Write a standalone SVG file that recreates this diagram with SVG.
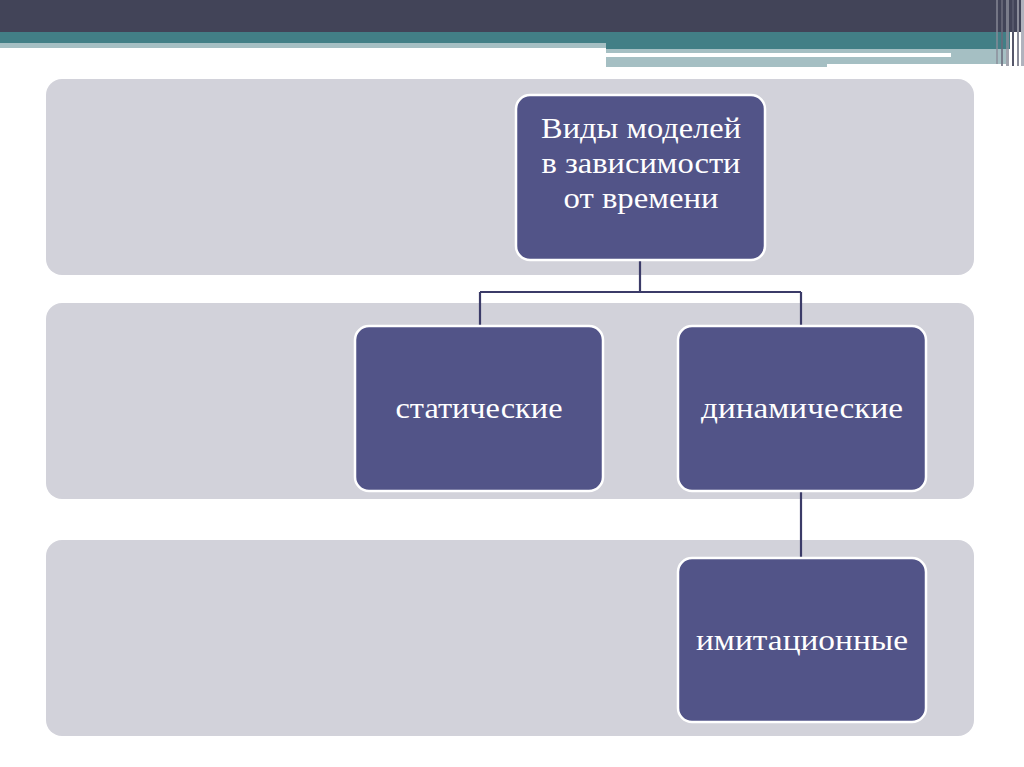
<svg xmlns="http://www.w3.org/2000/svg" width="1024" height="767" viewBox="0 0 1024 767">
<style>
.panel{fill:#d2d2da}
.node{fill:#525488;stroke:#ffffff;stroke-width:2.5}
.lbl{font-family:"Liberation Serif","DejaVu Serif",serif;font-size:29px;fill:#ffffff;text-anchor:middle}
.conn{fill:none;stroke:#3b3b68;stroke-width:2.2}
</style>
<rect width="1024" height="767" fill="#ffffff"/>
<g id="banner">
<rect x="0" y="0" width="1024" height="32" fill="#424458"/>
<rect x="0" y="32" width="1010" height="11" fill="#427f86"/>
<rect x="0" y="43" width="606" height="5" fill="#a5bfc3"/>
<rect x="606" y="43" width="404" height="6" fill="#427f86"/>
<rect x="606" y="49" width="400" height="4" fill="#a5bfc3"/>
<rect x="606" y="53" width="345" height="4" fill="#ffffff"/>
<rect x="951" y="53" width="55" height="11" fill="#a5bfc3"/>
<rect x="606" y="57" width="221" height="10" fill="#a5bfc3"/>
<rect x="827" y="57" width="179" height="7" fill="#a5bfc3"/>
<rect x="996" y="0" width="2" height="64" fill="#8a8c99" opacity="0.7"/>
<rect x="1001" y="0" width="2" height="66" fill="#6a6c7c" opacity="0.8"/>
<rect x="1006" y="0" width="3" height="66" fill="#8a8c99" opacity="0.8"/>
<rect x="1012" y="0" width="2" height="66" fill="#55576a"/>
<rect x="1017" y="0" width="2" height="66" fill="#8a8c99"/>
<rect x="1021" y="0" width="3" height="66" fill="#b0b2bd"/>
</g>
<g id="panels">
<rect class="panel" x="46" y="79" width="928" height="196" rx="16"/>
<rect class="panel" x="46" y="303" width="928" height="196" rx="16"/>
<rect class="panel" x="46" y="540" width="928" height="196" rx="16"/>
</g>
<g id="connectors">
<path class="conn" d="M640 260 V292 M480 292 H801 M480 292 V326 M801 292 V326"/>
<path class="conn" d="M801 491 V558"/>
</g>
<g id="node-root">
<rect class="node" x="516" y="95" width="249" height="165" rx="14"/>
<text class="lbl" x="641" y="138" textLength="200" lengthAdjust="spacingAndGlyphs">Виды моделей</text>
<text class="lbl" x="641" y="173" textLength="199" lengthAdjust="spacingAndGlyphs">в зависимости</text>
<text class="lbl" x="641" y="208" textLength="155" lengthAdjust="spacingAndGlyphs">от времени</text>
</g>
<g id="node-static">
<rect class="node" x="355" y="326" width="248" height="165" rx="14"/>
<text class="lbl" x="479" y="418" textLength="167" lengthAdjust="spacingAndGlyphs">статические</text>
</g>
<g id="node-dynamic">
<rect class="node" x="678" y="326" width="248" height="165" rx="14"/>
<text class="lbl" x="802" y="418" textLength="202" lengthAdjust="spacingAndGlyphs">динамические</text>
</g>
<g id="node-imitation">
<rect class="node" x="678" y="558" width="248" height="164" rx="14"/>
<text class="lbl" x="802" y="650" textLength="212" lengthAdjust="spacingAndGlyphs">имитационные</text>
</g>
</svg>
